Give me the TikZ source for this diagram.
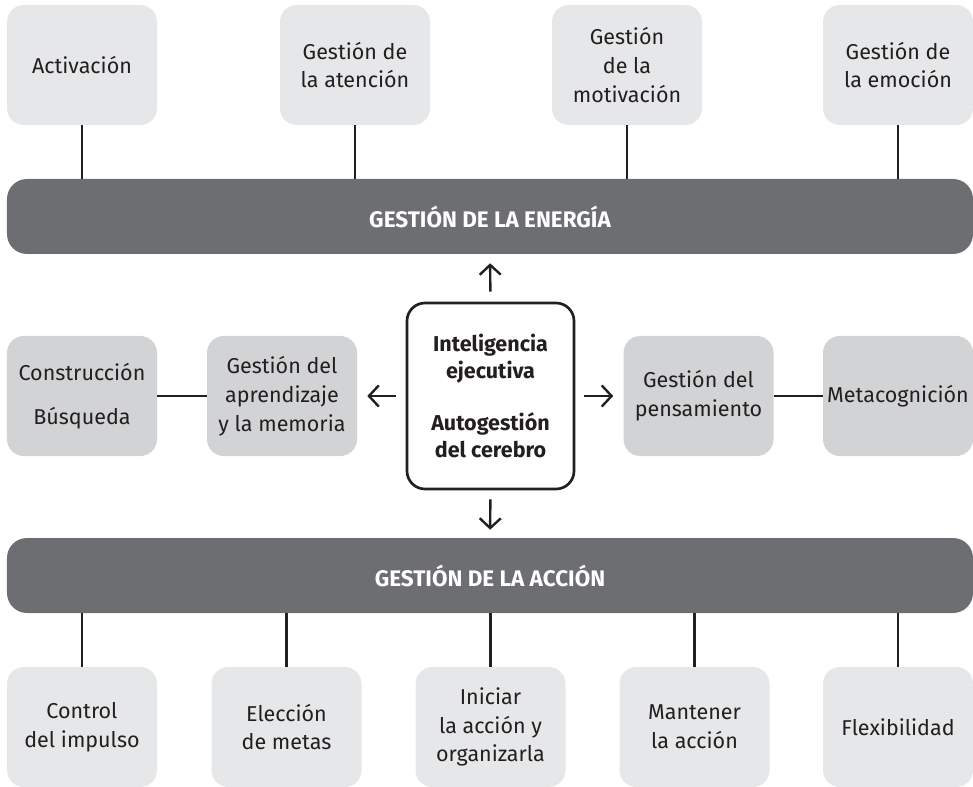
\documentclass[tikz,border=0pt]{standalone}
\usepackage{fontspec}
\setmainfont{Fira Sans}
\usetikzlibrary{arrows.meta}
\definecolor{boxlight}{HTML}{E6E7E8}
\definecolor{boxmid}{HTML}{D1D3D4}
\definecolor{bardark}{HTML}{6D6E71}
\definecolor{ink}{HTML}{231F20}
\begin{document}
\begin{tikzpicture}[x=0.25mm, y=-0.25mm,
  every node/.style={font=\fontsize{15.3}{20.5}\selectfont, text=ink, align=center, inner sep=0pt},
  topbox/.style={fill=boxlight, rounded corners=4.2mm, minimum width=37.5mm, minimum height=30mm},
  midbox/.style={fill=boxmid, rounded corners=4.2mm, minimum width=37.5mm, minimum height=30mm},
  bar/.style={fill=bardark, rounded corners=5mm, minimum width=241.5mm, minimum height=18.75mm, text=white, font=\fontsize{16}{20.5}\selectfont\bfseries},
  link/.style={draw=ink, line width=1.7pt},
  pointer/.style={link, -{Straight Barb[length=7pt,width=15pt]}}]
\useasboundingbox (0,0) rectangle (973,787);
% energy row
\node [topbox] (activ) at (82,65) {Activación};
\node [topbox] (atenc) at (355,65) {Gestión de\\la atención};
\node [topbox] (motiv) at (627,65) {Gestión\\de la\\motivación};
\node [topbox] (emoc) at (898,65) {Gestión de\\la emoción};
\node [bar] (energia) at (490,216.5) {GESTIÓN DE LA ENERGÍA};
% middle row
\node [midbox] (constr) at (82,396) {Construcción\\[3.8mm]Búsqueda};
\node [midbox] (aprend) at (282,396) {Gestión del\\aprendizaje\\y la memoria};
\node [draw=ink, line width=1.9pt, rounded corners=4.5mm, minimum width=41.75mm, minimum height=46.5mm,
  font=\fontsize{15.3}{19}\selectfont\bfseries] (intel) at (490.5,396)
  {Inteligencia\\ejecutiva\\[6.5mm]Autogestión\\del cerebro};
\node [midbox] (pensam) at (698.5,396) {Gestión del\\pensamiento};
\node [midbox] (metaco) at (898,396) {Metacognición};
% action row
\node [bar] (accion) at (490,575.5) {GESTIÓN DE LA ACCIÓN};
\node [topbox] (impul) at (82,727) {Control\\del impulso};
\node [topbox] (metas) at (286.5,727) {Elección\\de metas};
\node [topbox] (inici) at (490.5,727) {Iniciar\\la acción y\\organizarla};
\node [topbox] (mante) at (694.5,727) {Mantener\\la acción};
\node [topbox] (flexi) at (898,727) {Flexibilidad};
% connectors
\foreach \n in {activ,atenc,motiv,emoc}
  \draw [link] (\n.south) -- (\n.south |- energia.north);
\foreach \n in {impul,metas,inici,mante,flexi}
  \draw [link] (\n.north) -- (\n.north |- accion.south);
\draw [link] (constr.east) -- (aprend.west);
\draw [link] (pensam.east) -- (metaco.west);
\draw [pointer, shorten <=2.5mm, shorten >=2.25mm] (intel.north) -- (energia.south);
\draw [pointer, shorten <=2.25mm, shorten >=2mm] (intel.south) -- (accion.north);
\draw [pointer, shorten <=2.5mm, shorten >=2.5mm] (intel.west) -- (aprend.east);
\draw [pointer, shorten <=2.25mm, shorten >=2.5mm] (intel.east) -- (pensam.west);
\end{tikzpicture}
\end{document}
